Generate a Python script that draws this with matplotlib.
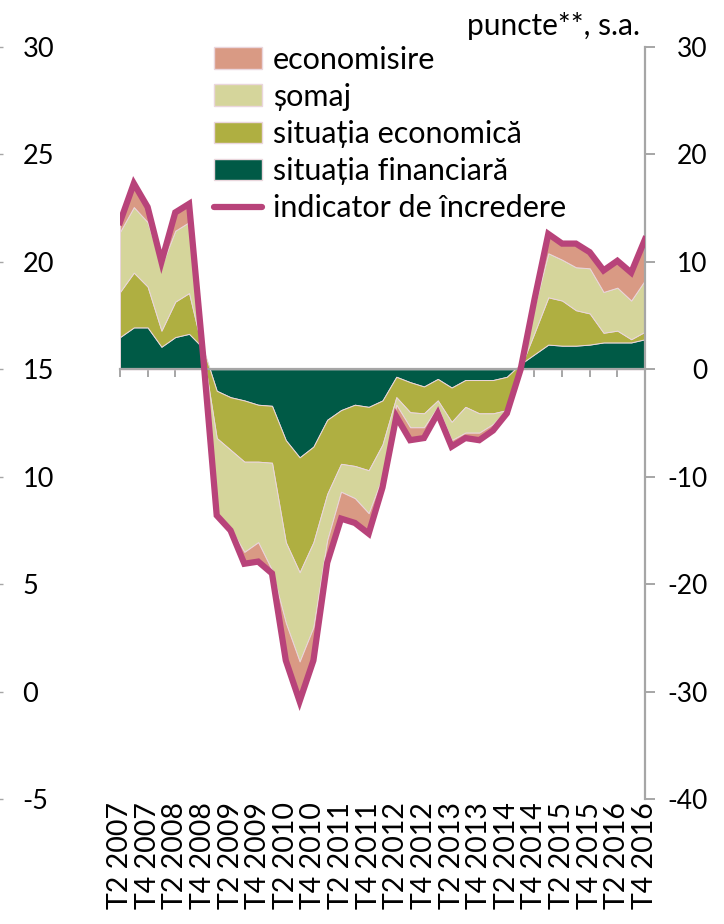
import numpy as np
import matplotlib.pyplot as plt
from matplotlib.lines import Line2D
from matplotlib.patches import Patch

plt.rcParams['font.family'] = ['Lato', 'DejaVu Sans']
plt.rcParams['axes.unicode_minus'] = False

# quarterly data, T2 2007 .. T4 2016 (puncte, s.a.)
tick_labels = ['T2 2007', 'T4 2007', 'T2 2008', 'T4 2008', 'T2 2009', 'T4 2009',
               'T2 2010', 'T4 2010', 'T2 2011', 'T4 2011', 'T2 2012', 'T4 2012',
               'T2 2013', 'T4 2013', 'T2 2014', 'T4 2014', 'T2 2015', 'T4 2015',
               'T2 2016', 'T4 2016']

sit_fin = [3.0, 3.9, 3.9, 2.1, 3.0, 3.3, 2.0, -2.0, -2.6, -2.9, -3.3, -3.4, -6.6,
           -8.2, -7.2, -4.7, -3.8, -3.3, -3.5, -2.9, -0.7, -1.2, -1.6, -0.9, -1.7,
           -1.0, -1.0, -1.0, -0.7, 0.5, 1.4, 2.3, 2.2, 2.2, 2.3, 2.5, 2.5, 2.5, 2.8]
sit_eco = [4.2, 5.1, 3.8, 1.5, 3.3, 3.8, -0.3, -4.4, -4.9, -5.7, -5.3, -5.3, -9.5,
           -10.7, -8.9, -6.9, -5.0, -5.7, -5.9, -4.1, -1.9, -2.8, -2.5, -2.0, -3.2,
           -2.5, -3.1, -3.1, -3.1, -0.3, 2.0, 4.4, 4.2, 3.3, 2.9, 0.9, 1.1, 0.3, 0.7]
somaj = [5.6, 6.1, 6.0, 6.0, 6.6, 6.6, -0.2, -7.0, -7.3, -8.4, -7.5, -10.0, -7.5,
         -8.3, -7.9, -4.3, -2.6, -3.0, -4.0, -3.0, -0.7, -1.4, -1.3, -0.6, -1.7,
         -2.4, -1.8, -1.0, 0.0, -0.2, 2.4, 4.1, 3.8, 4.0, 4.2, 3.8, 4.0, 3.6, 4.8]
economisire = [0.9, 2.2, 1.4, 0.4, 1.7, 1.7, 0.0, -0.2, -0.2, -1.1, -1.8, -0.3, -3.5,
               -3.7, -3.1, -2.1, -2.5, -2.3, -1.9, -1.0, -1.1, -1.2, -1.0, -0.6, -0.6,
               -0.5, -0.7, -0.6, -0.3, 0.0, 0.7, 1.8, 1.5, 2.2, 1.5, 2.0, 2.5, 2.6, 3.8]
indicator = [13.7, 17.3, 15.1, 10.0, 14.6, 15.4, 1.5, -13.6, -15.0, -18.1, -17.9, -19.0,
             -27.1, -30.9, -27.1, -18.0, -13.9, -14.3, -15.3, -11.0, -4.4, -6.6, -6.4,
             -4.1, -7.2, -6.4, -6.6, -5.7, -4.1, 0.0, 6.5, 12.6, 11.7, 11.7, 10.9, 9.2,
             10.1, 9.0, 12.1]

series = [('situația financiară', sit_fin, '#005a46'),
          ('situația economică', sit_eco, '#afaf41'),
          ('șomaj', somaj, '#d5d59b'),
          ('economisire', economisire, '#d99a84')]
line_color = '#b8437a'
gray = '#a6a6a6'

x = np.arange(len(indicator))

fig = plt.figure(figsize=(7.24, 9.24), dpi=100)
ax = fig.add_axes([120/724, 125/924, 525/724, 752/924])

# excel style stacked area: plain cumulative sums
base = np.zeros(len(x))
for name, vals, col in series:
    top = base + np.array(vals)
    ax.fill_between(x, base, top, color=col, edgecolor='#ead6dc', linewidth=0.7, zorder=2)
    base = top

ax.plot(x, indicator, color=line_color, lw=4.5, solid_joinstyle='miter', zorder=4)

ax.set_xlim(0, len(x) - 1)
ax.set_ylim(-40, 30)

# zero line carries the x ticks
for s in ['left', 'top']:
    ax.spines[s].set_visible(False)
ax.spines['bottom'].set_position(('data', 0))
ax.spines['bottom'].set_color(gray)
ax.spines['bottom'].set_linewidth(1.6)
ax.spines['bottom'].set_zorder(3)
ax.spines['right'].set_color(gray)
ax.spines['right'].set_linewidth(1.6)
ax.set_xticks(x[::2])
ax.tick_params(axis='x', direction='out', length=6, width=1.4, color=gray, labelbottom=False)

ax.yaxis.tick_right()
ax.set_yticks(np.arange(-40, 31, 10))
ax.tick_params(axis='y', direction='out', length=7, width=1.4, color=gray, labelsize=19, pad=38)
for t in ax.get_yticklabels():
    t.set_ha('right')

sec = ax.secondary_xaxis('bottom')
sec.set_xticks(x[::2])
sec.set_xticklabels(tick_labels, rotation=90, fontsize=20.5)
sec.tick_params(length=0, pad=2)
sec.spines['bottom'].set_visible(False)

# left scale
axl = fig.add_axes([3/724, 125/924, 0.0001, 752/924])
axl.set_ylim(-5, 30)
axl.set_yticks(np.arange(-5, 31, 5))
axl.yaxis.tick_right()
axl.set_xticks([])
for s in axl.spines.values():
    s.set_visible(False)
axl.tick_params(axis='y', direction='in', length=3, width=1, color=gray, labelsize=19.5, pad=14)
axl.patch.set_visible(False)

fig.text(640/724, 1 - 35/924, 'puncte**, s.a.', ha='right', va='baseline', fontsize=21.5)

handles = [Patch(facecolor=c, edgecolor='#ead6dc', label=n) for n, v, c in series[::-1]]
handles.append(Line2D([0], [0], color=line_color, lw=4.5, solid_capstyle='round',
                      label='indicator de încredere'))
ax.legend(handles=handles, loc='upper left', bbox_to_anchor=(0.155, 1.018), frameon=False,
          fontsize=22, handlelength=1.6, handleheight=0.7, handletextpad=0.33,
          labelspacing=0.3, borderaxespad=0)

fig.savefig('out.png', dpi=100)
